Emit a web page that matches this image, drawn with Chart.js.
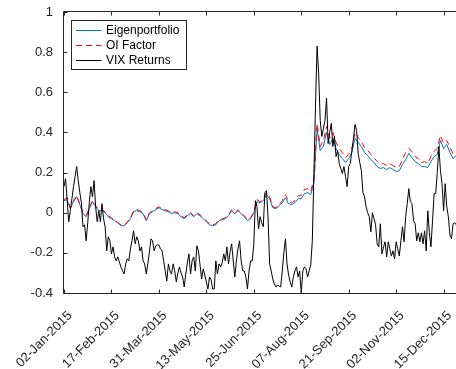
<!DOCTYPE html>
<html>
<head>
<meta charset="utf-8">
<script src="https://cdn.jsdelivr.net/npm/chart.js@4/dist/chart.umd.min.js"></script>
<style>
  html, body { margin: 0; padding: 0; background: #fff; overflow: hidden; }
  #wrap { width: 462px; height: 369px; position: relative; }
</style>
</head>
<body>
<div id="wrap"><canvas id="chart"></canvas></div>
<script>
// trading-day index of each tick (one tick every 30 trading days)
const tickDays = [0, 30, 60, 90, 120, 150, 180, 210, 240];
const tickLabels = ['02-Jan-2015', '17-Feb-2015', '31-Mar-2015', '13-May-2015', '25-Jun-2015',
                    '07-Aug-2015', '21-Sep-2015', '02-Nov-2015', '15-Dec-2015'];
const lastDay = 251;
const factorStep = 2; // factor series read every 2 trading days

const eigen = [
    0.06, 0.065, 0.02, 0.055, 0.08, 0.04, -0.005, -0.02, 0.02, 0.055,
    0.03, 0.01, 0.01, 0.0, -0.02, -0.03, -0.04, -0.05, -0.065, -0.065,
    -0.05, -0.03, 0.005, 0.01, 0.005, -0.005, -0.04, -0.005, 0.005, 0.015,
    0.025, 0.015, 0.01, 0.005, -0.005, 0.0, -0.005, -0.02, -0.03, -0.015,
    -0.005, -0.02, -0.005, -0.015, -0.03, -0.045, -0.06, -0.065, -0.06, -0.04,
    -0.035, -0.03, -0.015, 0.01, -0.005, 0.01, -0.005, -0.02, -0.04, -0.03,
    0.0, 0.055, 0.05, 0.06, 0.09, 0.07, 0.025, 0.02, 0.035, 0.05,
    0.075, 0.045, 0.04, 0.05, 0.07, 0.07, 0.095, 0.10, 0.09, 0.15,
    0.42, 0.31, 0.33, 0.40, 0.34, 0.37, 0.32, 0.29, 0.27, 0.25,
    0.27, 0.30, 0.37, 0.35, 0.33, 0.30, 0.285, 0.265, 0.25, 0.23,
    0.22, 0.225, 0.215, 0.225, 0.215, 0.205, 0.21, 0.24, 0.265, 0.295,
    0.275, 0.255, 0.245, 0.23, 0.23, 0.225, 0.255, 0.28, 0.29, 0.36,
    0.32, 0.34, 0.30, 0.27, 0.285, 0.28
];

const oiFactor = [
    0.065, 0.075, 0.025, 0.06, 0.085, 0.045, 0.0, -0.015, 0.025, 0.06,
    0.035, 0.015, 0.015, 0.005, -0.015, -0.025, -0.04, -0.05, -0.06, -0.065,
    -0.045, -0.025, 0.01, 0.015, 0.01, 0.0, -0.035, 0.0, 0.01, 0.02,
    0.03, 0.02, 0.015, 0.01, 0.0, 0.005, 0.0, -0.015, -0.025, -0.01,
    0.0, -0.015, 0.0, -0.01, -0.025, -0.04, -0.055, -0.06, -0.055, -0.035,
    -0.03, -0.025, -0.01, 0.015, 0.0, 0.015, 0.0, -0.015, -0.035, -0.025,
    0.005, 0.065, 0.055, 0.07, 0.10, 0.08, 0.03, 0.025, 0.04, 0.06,
    0.09, 0.055, 0.05, 0.06, 0.085, 0.085, 0.115, 0.12, 0.105, 0.17,
    0.445, 0.33, 0.36, 0.43, 0.37, 0.40, 0.35, 0.32, 0.30, 0.275,
    0.29, 0.32, 0.40, 0.375, 0.355, 0.325, 0.31, 0.29, 0.275, 0.255,
    0.24, 0.245, 0.235, 0.245, 0.235, 0.225, 0.23, 0.265, 0.30, 0.32,
    0.305, 0.28, 0.27, 0.25, 0.255, 0.245, 0.28, 0.305, 0.32, 0.385,
    0.345, 0.36, 0.325, 0.295, 0.31, 0.305
];

// one value per trading day
const vixReturns = [
    0.13, 0.17, 0.06, -0.045, 0.01, 0.07, 0.13, 0.18, 0.23, 0.16,
    0.10, 0.05, -0.07, -0.06, -0.14, -0.05, 0.05, 0.13, 0.08, 0.16,
    0.03, -0.045, 0.01, -0.045, 0.045, -0.03, -0.07, -0.19, -0.12, -0.14,
    -0.205, -0.17, -0.22, -0.24, -0.22, -0.245, -0.27, -0.29, -0.305, -0.255,
    -0.23, -0.24, -0.18, -0.14, -0.09, -0.155, -0.12, -0.14, -0.19, -0.17,
    -0.24, -0.255, -0.305, -0.255, -0.195, -0.13, -0.14, -0.19, -0.165, -0.16,
    -0.16, -0.18, -0.19, -0.24, -0.29, -0.34, -0.255, -0.29, -0.305, -0.255,
    -0.29, -0.345, -0.30, -0.27, -0.30, -0.32, -0.37, -0.305, -0.25, -0.205,
    -0.305, -0.24, -0.22, -0.29, -0.165, -0.19, -0.26, -0.33, -0.28, -0.31,
    -0.345, -0.38, -0.32, -0.335, -0.38, -0.38, -0.24, -0.305, -0.255, -0.27,
    -0.25, -0.205, -0.24, -0.17, -0.255, -0.195, -0.155, -0.24, -0.32, -0.24,
    -0.18, -0.14, -0.24, -0.29, -0.29, -0.32, -0.38, -0.29, -0.24, -0.24,
    -0.155, 0.06, 0.03, -0.08, -0.02, -0.05, -0.07, 0.10, 0.11, -0.02,
    -0.255, -0.29, -0.33, -0.355, -0.37, -0.36, -0.365, -0.37, -0.29, -0.2,
    -0.13, -0.255, -0.31, -0.345, -0.37, -0.32, -0.29, -0.27, -0.32, -0.29,
    -0.40, -0.29, -0.27, -0.28, -0.32, -0.29, -0.26, -0.14, 0.195, 0.53,
    0.83, 0.695, 0.46, 0.38, 0.42, 0.46, 0.57, 0.345, 0.40, 0.445,
    0.33, 0.38, 0.28, 0.31, 0.245, 0.22, 0.195, 0.23, 0.18, 0.13,
    0.23, 0.245, 0.31, 0.37, 0.44, 0.41, 0.295, 0.25, 0.21, 0.10,
    0.08, 0.03, 0.0, -0.02, -0.095, 0.0, -0.03, -0.06, -0.155, -0.17,
    -0.055, -0.205, -0.17, -0.145, -0.22, -0.145, -0.18, -0.215, -0.19, -0.23,
    -0.145, -0.18, -0.215, -0.14, -0.07, -0.145, -0.02, 0.045, 0.12, 0.055,
    0.045, -0.04, -0.055, -0.14, -0.10, -0.145, -0.10, -0.155, -0.09, -0.19,
    0.01, -0.10, -0.17, -0.04, 0.095, 0.095, 0.20, 0.33, 0.21, 0.145,
    0.01, 0.145, 0.03, -0.02, -0.11, -0.13, -0.055, -0.05, -0.06, -0.05,
    -0.07, -0.06
];

const toPoints = (arr, step) => arr.map((y, k) => ({ x: k * step, y: y }));

const axisColor = '#262626';
const fontFamily = '"Liberation Sans", Arial, Helvetica, sans-serif';

// matlab style box: axis lines + inward ticks, legend inside the axes
const boxAxes = {
    id: 'boxAxes',
    afterDraw(chart) {
        const { ctx, chartArea: ca, scales } = chart;
        const tl = 4;
        ctx.save();
        ctx.strokeStyle = axisColor;
        ctx.lineWidth = 1;
        ctx.beginPath();
        ctx.moveTo(ca.right, ca.top - 0.5);
        ctx.lineTo(ca.left - 0.5, ca.top - 0.5);
        ctx.lineTo(ca.left - 0.5, ca.bottom + 0.5);
        ctx.lineTo(ca.right, ca.bottom + 0.5);
        ctx.lineTo(ca.right, ca.top - 0.5);
        scales.y.ticks.forEach(t => {
            const y = Math.round(scales.y.getPixelForValue(t.value)) + 0.5;
            ctx.moveTo(ca.left - 0.5, y);
            ctx.lineTo(ca.left - 0.5 + tl, y);
            ctx.moveTo(ca.right, y);
            ctx.lineTo(ca.right - tl, y);
        });
        tickDays.forEach(d => {
            const x = Math.round(scales.x.getPixelForValue(d)) + 0.5;
            ctx.moveTo(x, ca.bottom + 0.5);
            ctx.lineTo(x, ca.bottom + 0.5 - tl);
            ctx.moveTo(x, ca.top - 0.5);
            ctx.lineTo(x, ca.top - 0.5 + tl);
        });
        ctx.stroke();

        const lx = ca.left + 7.5, ly = ca.top + 8.5;
        const lw = 115, lh = 49, rowH = 15;
        ctx.fillStyle = '#fff';
        ctx.fillRect(lx, ly, lw, lh);
        ctx.strokeRect(lx, ly, lw, lh);
        ctx.font = '12px ' + fontFamily;
        ctx.textBaseline = 'middle';
        chart.data.datasets.forEach((ds, i) => {
            const y = ly + 10 + i * rowH;
            ctx.strokeStyle = ds.borderColor;
            ctx.setLineDash(ds.borderDash || []);
            ctx.beginPath();
            ctx.moveTo(lx + 4.5, y);
            ctx.lineTo(lx + 30, y);
            ctx.stroke();
            ctx.setLineDash([]);
            ctx.fillStyle = '#000';
            ctx.fillText(ds.label, lx + 34.5, y + 0.5);
        });
        ctx.restore();
    }
};

new Chart(document.getElementById('chart'), {
    type: 'line',
    data: {
        datasets: [
            { label: 'Eigenportfolio', data: toPoints(eigen, factorStep), borderColor: '#0072BD', order: 2 },
            { label: 'OI Factor', data: toPoints(oiFactor, factorStep), borderColor: '#FF0000', borderDash: [6, 4], order: 1 },
            { label: 'VIX Returns', data: toPoints(vixReturns, 1), borderColor: '#000000', order: 0 }
        ]
    },
    options: {
        responsive: true,
        maintainAspectRatio: false,
        animation: false,
        layout: { padding: { top: 12, right: 1, left: 0, bottom: 0 } },
        elements: {
            line: { borderWidth: 1, tension: 0 },
            point: { radius: 0 }
        },
        plugins: {
            legend: { display: false },
            tooltip: { enabled: false }
        },
        scales: {
            x: {
                type: 'linear',
                min: 0,
                max: lastDay,
                afterBuildTicks: s => { s.ticks = tickDays.map(v => ({ value: v })); },
                afterFit: s => { s.height = 76; },
                grid: { display: false },
                border: { display: false },
                ticks: {
                    autoSkip: false,
                    maxRotation: 45,
                    minRotation: 45,
                    padding: 7,
                    labelOffset: 6,
                    color: axisColor,
                    font: { family: fontFamily, size: 13 },
                    callback: v => tickLabels[tickDays.indexOf(v)]
                }
            },
            y: {
                min: -0.4,
                max: 1,
                afterFit: s => { s.width = 64; },
                grid: { display: false },
                border: { display: false },
                ticks: {
                    stepSize: 0.2,
                    padding: 3,
                    color: axisColor,
                    font: { family: fontFamily, size: 13 },
                    callback: v => String(+v.toFixed(1))
                }
            }
        }
    },
    plugins: [boxAxes]
});
</script>
</body>
</html>
